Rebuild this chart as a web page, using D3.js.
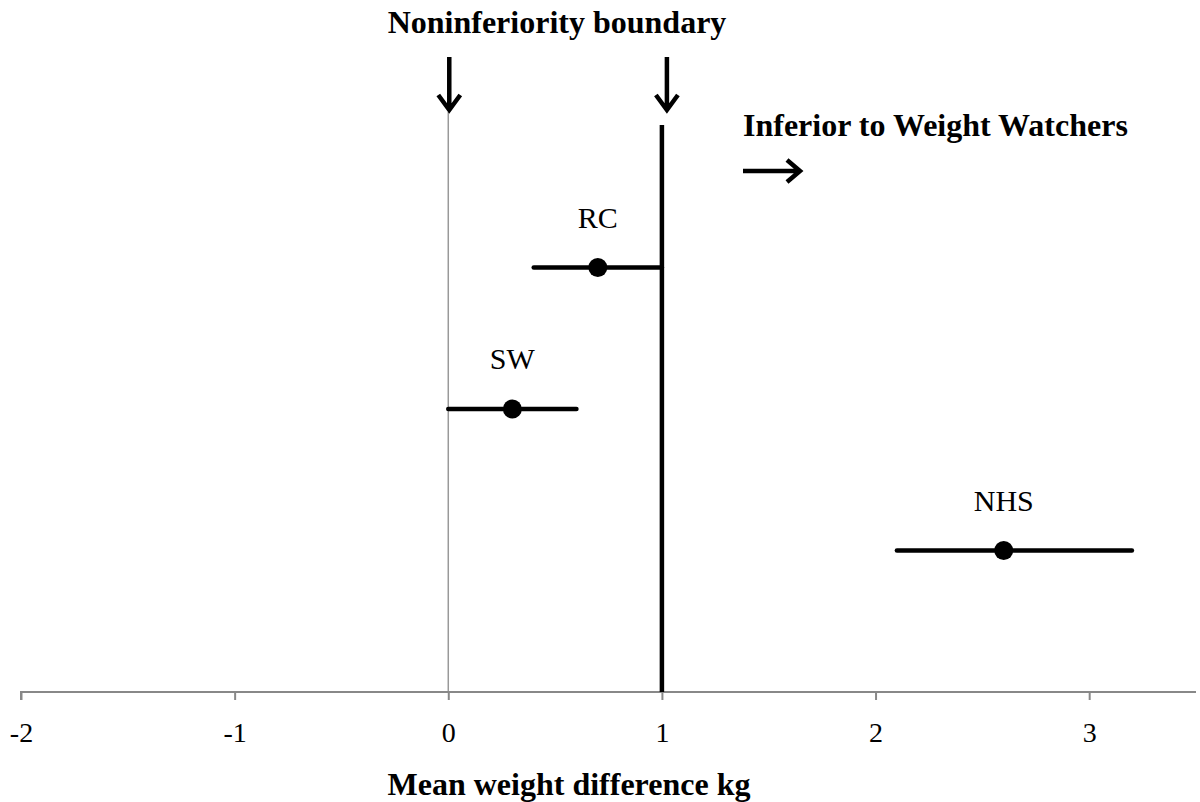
<!DOCTYPE html>
<html>
<head>
<meta charset="utf-8">
<script src="https://cdn.jsdelivr.net/npm/d3@7"></script>
<style>
  body { margin: 0; background: #fff; }
  text { font-family: "Liberation Serif", "Times New Roman", serif; fill: #000; }
</style>
</head>
<body>
<div id="chart-area"></div>
<script>
// data
var programmes = ["RC", "SW", "NHS"];
var means = [0.7, 0.3, 2.6];
var lower = [0.4, 0.0, 2.1];
var upper = [1.0, 0.6, 3.2];
var rowPos = [3, 2, 1];
var xTicks = [-2, -1, 0, 1, 2, 3];
var boundary = 1;

var W = 1200, H = 802;
var svg = d3.select("#chart-area").append("svg")
  .attr("width", W).attr("height", H);

var x = d3.scaleLinear().domain([-2, 3.5]).range([21, 1196]);
var y = d3.scaleLinear().domain([0, 4]).range([692, 126]);

// grey zero line
svg.append("line")
  .attr("x1", x(0)).attr("x2", x(0))
  .attr("y1", 112).attr("y2", y(0))
  .attr("stroke", "#999").attr("stroke-width", 1.5);

// axis
var xAxis = d3.axisBottom(x).tickValues(xTicks).tickSize(8).tickPadding(22)
  .tickFormat(function(d) { return String(d); });
var axisG = svg.append("g")
  .attr("transform", "translate(0," + y(0) + ")")
  .call(xAxis);
axisG.select(".domain").attr("stroke", "#888").attr("stroke-width", 2)
  .attr("d", "M" + x(-2) + ",8V0H" + x(3.5));
axisG.selectAll(".tick line").attr("stroke", "#888").attr("stroke-width", 2);
axisG.selectAll(".tick text")
  .style("font-family", "'Liberation Serif', serif")
  .style("font-size", "28px").attr("fill", "#000");

// noninferiority boundary
svg.append("line")
  .attr("x1", x(boundary)).attr("x2", x(boundary))
  .attr("y1", 125).attr("y2", y(0))
  .attr("stroke", "#000").attr("stroke-width", 4.5);

// confidence intervals
var rows = programmes.map(function(p, i) {
  return { name: p, mean: means[i], lo: lower[i], hi: upper[i], row: rowPos[i] };
});
svg.selectAll(".ci").data(rows).enter().append("line")
  .attr("class", "ci")
  .attr("x1", function(d) { return x(d.lo); })
  .attr("x2", function(d) { return x(d.hi); })
  .attr("y1", function(d) { return y(d.row); })
  .attr("y2", function(d) { return y(d.row); })
  .attr("stroke", "#000").attr("stroke-width", 4.5).attr("stroke-linecap", "round");

svg.selectAll(".pt").data(rows).enter().append("circle")
  .attr("class", "pt")
  .attr("cx", function(d) { return x(d.mean); })
  .attr("cy", function(d) { return y(d.row); })
  .attr("r", 9.5).attr("fill", "#000");

svg.selectAll(".lab").data(rows).enter().append("text")
  .attr("class", "lab")
  .attr("x", function(d) { return x(d.mean); })
  .attr("y", function(d) { return y(d.row) - 40; })
  .attr("text-anchor", "middle")
  .style("font-size", "30px")
  .text(function(d) { return d.name; });

// arrows
function arrowDown(cx) {
  svg.append("path")
    .attr("d", "M" + cx + ",57V110M" + (cx - 11) + ",95L" + cx + ",110L" + (cx + 11) + ",95")
    .attr("fill", "none").attr("stroke", "#000").attr("stroke-width", 4.5);
}
arrowDown(x(0) + 1);
arrowDown(x(boundary) + 5);

svg.append("path")
  .attr("d", "M743,171H799M787,160L800,171L787,182")
  .attr("fill", "none").attr("stroke", "#000").attr("stroke-width", 4.5);

// titles
svg.append("text")
  .attr("x", 557).attr("y", 33)
  .attr("text-anchor", "middle")
  .style("font-size", "32px").style("font-weight", "bold")
  .text("Noninferiority boundary");

svg.append("text")
  .attr("x", 743).attr("y", 136)
  .style("font-size", "32px").style("font-weight", "bold")
  .text("Inferior to Weight Watchers");

svg.append("text")
  .attr("x", 569).attr("y", 795)
  .attr("text-anchor", "middle")
  .style("font-size", "32px").style("font-weight", "bold")
  .text("Mean weight difference kg");
</script>
</body>
</html>
